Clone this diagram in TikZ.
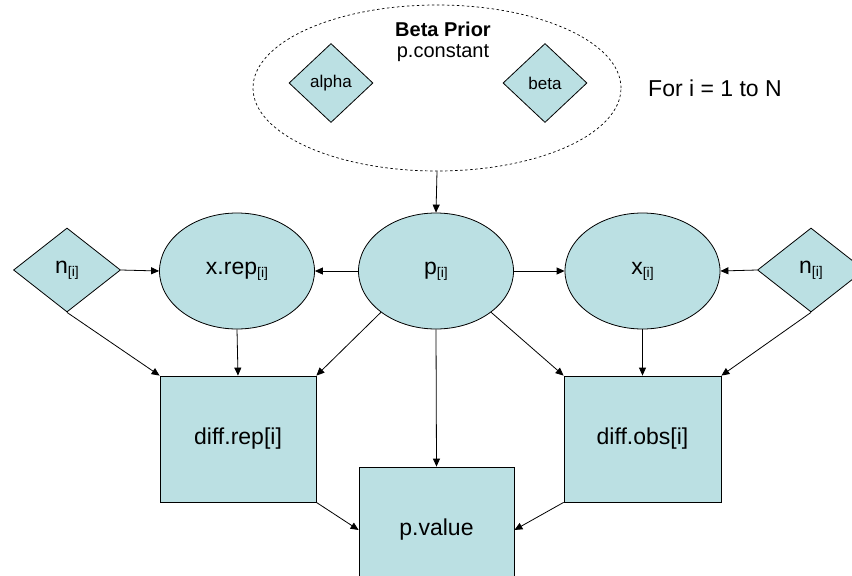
\documentclass[tikz,border=0pt]{standalone}
\usepackage{fontspec}
\setmainfont{Liberation Sans}
\usetikzlibrary{shapes.geometric,arrows.meta}
\definecolor{nodefill}{HTML}{BBE0E3}
\tikzset{
  base/.style={draw=black, line width=0.8pt, fill=nodefill, inner sep=0pt, text=black},
  ell/.style={base, ellipse, minimum width=155pt, minimum height=116pt, font=\fontsize{23}{26}\selectfont},
  dia/.style={base, diamond, font=\fontsize{23}{26}\selectfont},
  smalldia/.style={base, diamond, minimum width=84pt, minimum height=79pt, font=\fontsize{17}{20}\selectfont},
  boxnode/.style={base, rectangle, minimum width=156pt, minimum height=126pt, font=\fontsize{23}{26}\selectfont},
  arr/.style={-{Triangle[length=8pt,width=7pt]}, line width=0.8pt, black},
  prior/.style={draw=black, dash pattern=on 2.5pt off 2.5pt, line width=0.7pt, ellipse, minimum width=368pt, minimum height=166pt, inner sep=0pt},
  lbl/.style={inner sep=0pt, text=black}
}
\newcommand{\idx}{\raisebox{-3pt}{\fontsize{14}{16}\selectfont[i]}}
\begin{document}
\begin{tikzpicture}[x=1pt,y=-1pt]
\useasboundingbox (0,0) rectangle (852,576);
\clip (0,0) rectangle (852,576);
% prior
\node[prior] (pr) at (437,88) {};
\node[lbl, font=\bfseries\fontsize{20}{22}\selectfont] (bp) at (443,29) {Beta Prior};
\node[lbl, font=\fontsize{20}{22}\selectfont] (pc) at (443,53) {p.constant};
\node[smalldia] (alpha) at (331,83) {alpha};
\node[smalldia] (beta) at (545,83) {beta};
\node[lbl, font=\fontsize{23}{26}\selectfont] (fori) at (715,88) {For i = 1 to N};
% row 2
\node[dia, minimum width=107pt, minimum height=84pt] (nl) at (67,270) {n\idx};
\node[dia, minimum width=107pt, minimum height=84pt] (nr) at (811,270) {n\idx};
\node[ell] (xrep) at (237,271) {x.rep\idx};
\node[ell] (p) at (436,271) {p\idx};
\node[ell] (x) at (642.5,271) {x\idx};
% boxes
\node[boxnode] (drep) at (238,439) {diff.rep[i]};
\node[boxnode, minimum width=157pt] (dobs) at (642.5,439) {diff.obs[i]};
\node[boxnode, minimum width=155pt] (pval) at (436.5,530) {p.value};
% arrows
\draw[arr] (pr.south) -- (p.north);
\draw[arr] (nl.east) -- (xrep.west);
\draw[arr] (p.west) -- (xrep.east);
\draw[arr] (p.east) -- (x.west);
\draw[arr] (nr.west) -- (x.east);
\draw[arr] (nl.south) -- (drep.north west);
\draw[arr] (xrep.south) -- (drep.north);
\draw[arr] (p.south west) -- (drep.north east);
\draw[arr] (p.south) -- (pval.north);
\draw[arr] (p.south east) -- (dobs.north west);
\draw[arr] (x.south) -- (dobs.north);
\draw[arr] (nr.south) -- (dobs.north east);
\draw[arr] (drep.south east) -- (pval.west);
\draw[arr] (dobs.south west) -- (pval.east);
\end{tikzpicture}
\end{document}
